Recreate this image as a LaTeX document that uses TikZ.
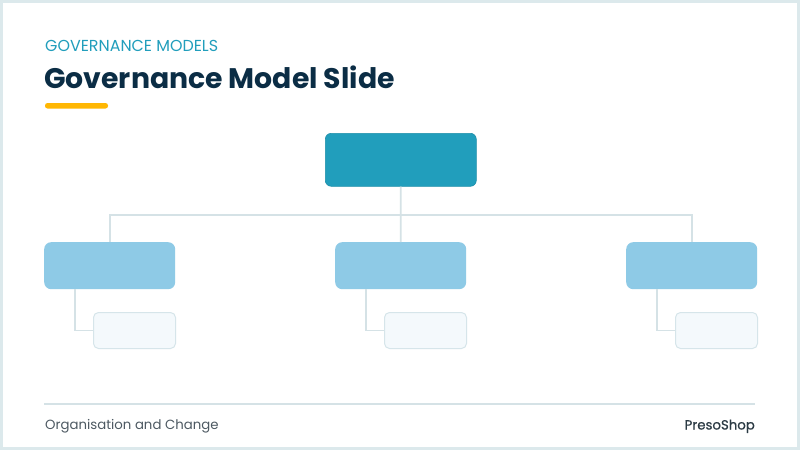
\documentclass[tikz,border=0pt]{standalone}
\usepackage{fontspec}
\setmainfont{Poppins}
\definecolor{frame}{HTML}{DCE9EC}
\definecolor{topc}{HTML}{219EBC}
\definecolor{childc}{HTML}{8ECAE6}
\definecolor{gfill}{HTML}{F4F9FC}
\definecolor{gline}{HTML}{D6E5EA}
\definecolor{conn}{HTML}{D5E2E6}
\definecolor{navy}{HTML}{0B2D45}
\definecolor{accent}{HTML}{FFB703}
\definecolor{foot}{HTML}{4D5962}
\definecolor{footdark}{HTML}{2B3A44}
\tikzset{
  topbox/.style={fill=topc, draw=topc!90!black, line width=0.6pt, rounded corners=6pt, minimum width=151pt, minimum height=53pt, inner sep=0pt, anchor=north west},
  childbox/.style={fill=childc, draw=none, rounded corners=7pt, minimum width=131pt, minimum height=47pt, inner sep=0pt, anchor=north west},
  gbox/.style={fill=gfill, draw=gline, line width=1pt, rounded corners=5pt, minimum width=82pt, minimum height=36pt, inner sep=0pt, anchor=north west},
  connector/.style={draw=conn, line width=1.8pt},
}
\begin{document}
\begin{tikzpicture}[x=1pt,y=-1pt]
\useasboundingbox (0,0) rectangle (800,450);
\fill[frame] (0,0) rectangle (800,450);
\fill[white] (3,3) rectangle (797,447);
% header
\node[anchor=base west, inner sep=0pt, text=topc, font=\fontsize{15.9}{18}\selectfont] (kicker) at (45,51.5) {GOVERNANCE MODELS};
\node[anchor=base west, inner sep=0pt, text=navy, font=\fontsize{28.3}{32}\selectfont\bfseries] (title) at (44,88) {Governance Model Slide};
\fill[accent, rounded corners=2.5pt] (45,103) rectangle (108,108.5);
% boxes
\node[topbox] (top) at (325,133) {};
\node[childbox] (c1) at (44,242) {};
\node[childbox] (c2) at (335,242) {};
\node[childbox] (c3) at (626,242) {};
\node[gbox] (g1) at (93,312) {};
\node[gbox] (g2) at (384,312) {};
\node[gbox] (g3) at (675,312) {};
\coordinate (bus) at (400.5,215);
% connectors
\draw[connector] (c1.north) |- (bus) -| (c3.north);
\draw[connector] (top.south) -- (c2.north);
\draw[connector] ([xshift=31pt]c1.south west) |- (g1.west);
\draw[connector] ([xshift=31pt]c2.south west) |- (g2.west);
\draw[connector] ([xshift=31pt]c3.south west) |- (g3.west);
% footer
\coordinate (fl) at (44,404);
\coordinate (fr) at (755,404);
\draw[draw=conn, line width=1.5pt] (fl) -- (fr);
\node[anchor=base west, inner sep=0pt, text=foot, font=\fontsize{13.3}{15}\selectfont] (ftl) at (45,429.5) {Organisation and Change};
\node[anchor=base east, inner sep=0pt, text=footdark, font=\fontsize{13.3}{15}\selectfont\addfontfeatures{FakeBold=0.6}] (ftr) at (755,429.5) {PresoShop};
\end{tikzpicture}
\end{document}
